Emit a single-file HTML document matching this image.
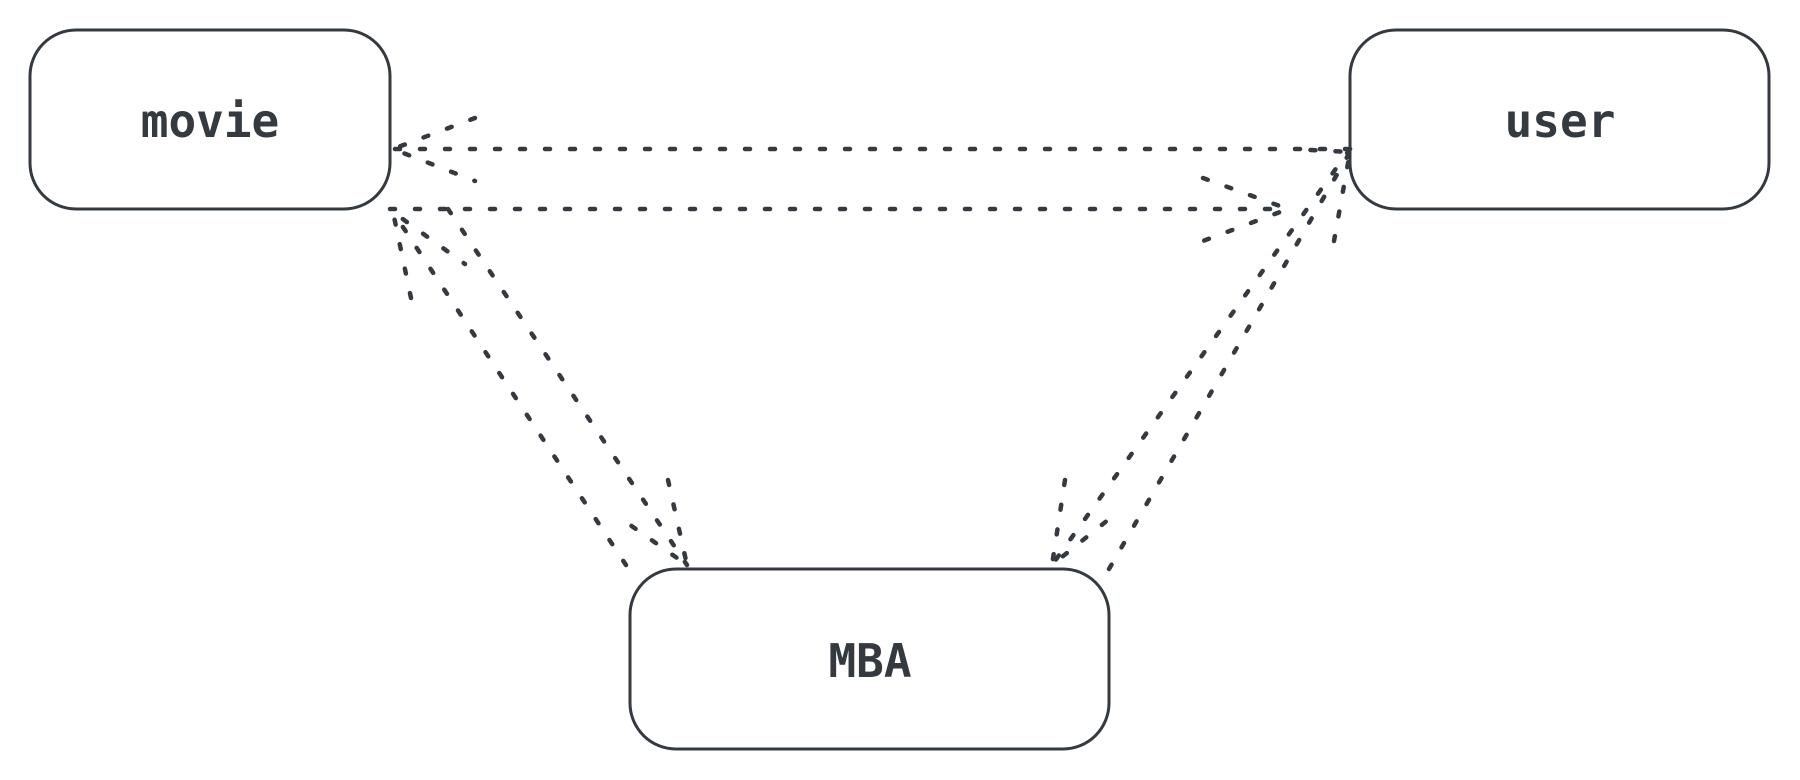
<!DOCTYPE html>
<html><head><style>
html,body{margin:0;padding:0;background:#fff;}
svg{display:block}
text{font-family:"DejaVu Sans Mono","Liberation Mono",monospace;font-weight:bold;font-size:46px;fill:#343a40}
</style></head><body>
<svg width="1800" height="780" viewBox="0 0 1800 780">
<g fill="none" stroke="#343a40" stroke-width="3">
<rect x="30" y="30" width="360" height="179" rx="46"/>
<rect x="1350" y="30" width="419" height="179" rx="46"/>
<rect x="630" y="569" width="479" height="180" rx="46"/>
</g>
<g fill="none" stroke="#343a40" stroke-width="4.5" stroke-linecap="round" stroke-dasharray="5 20">
<path d="M1350 149 L393 149"/>
<path d="M475 118 L393 149 L475 181"/>
<path d="M390 209 L1288 209"/>
<path d="M1203 178 L1288 209 L1203 241"/>
<path d="M626 565 L393 212"/>
<path d="M411 298 L393 212 L465 264"/>
<path d="M448 209 L687 565"/>
<path d="M668 480 L687 565 L616 515"/>
<path d="M1350 149 L1052 565"/>
<path d="M1065 480 L1052 565 L1119 511"/>
<path d="M1109 569 L1350 152"/>
<path d="M1334 241 L1350 152 L1292 149"/>
</g>
<text x="210" y="137" text-anchor="middle">movie</text>
<text x="1560" y="137" text-anchor="middle">user</text>
<text x="870" y="677" text-anchor="middle">MBA</text>
</svg>
</body></html>
